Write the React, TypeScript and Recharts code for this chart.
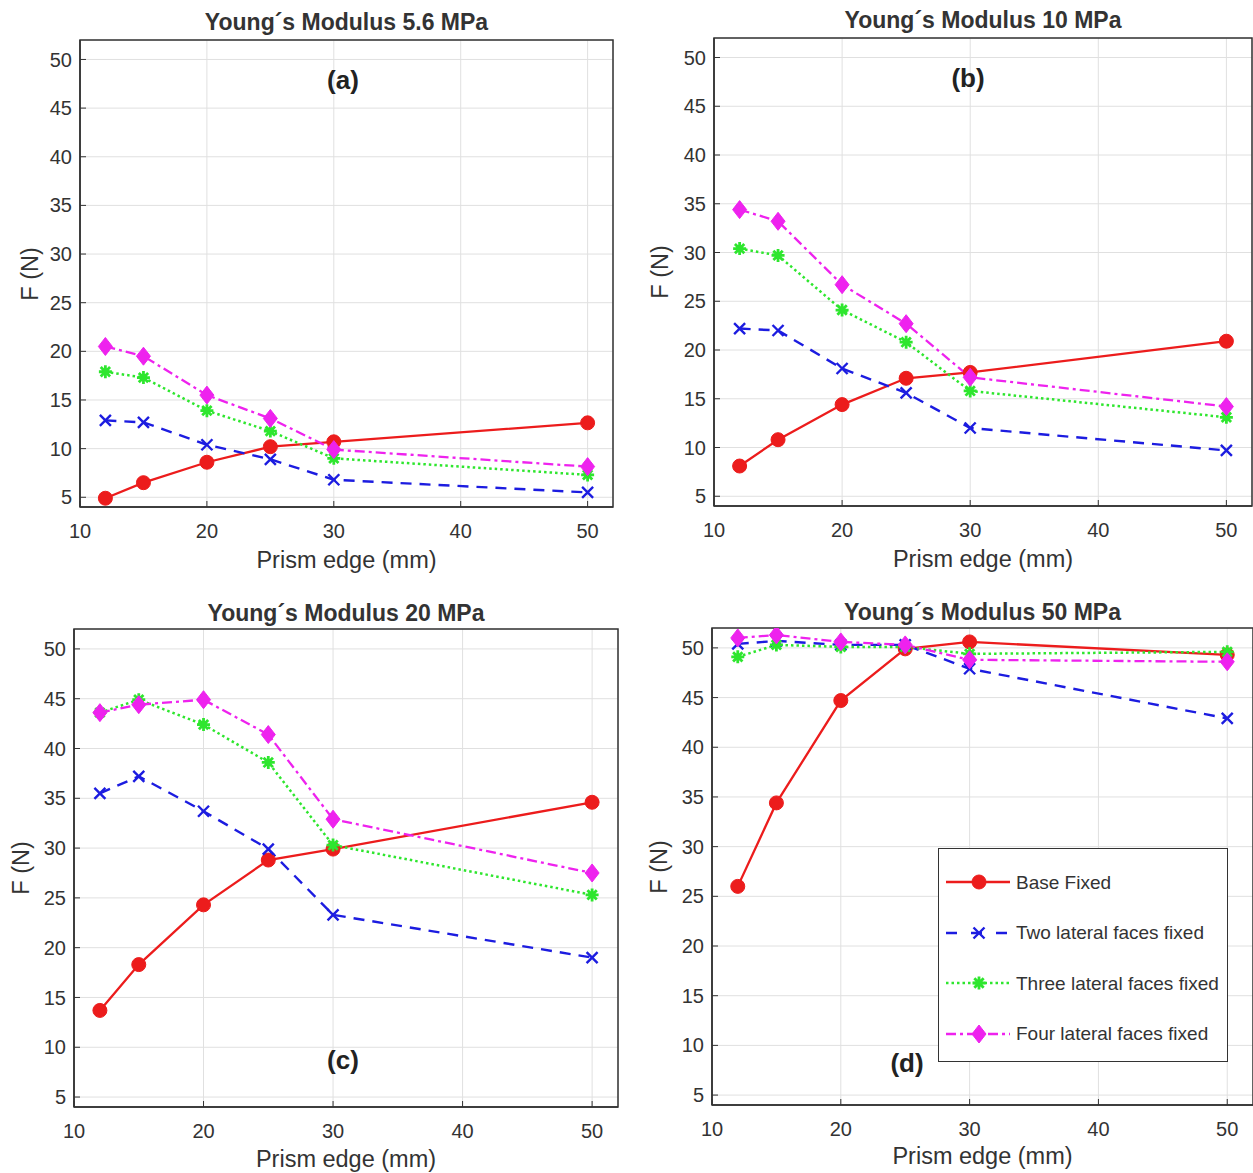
import React from 'react';
import { LineChart, Line, XAxis, YAxis, CartesianGrid, ReferenceArea } from 'recharts';

const EDGES = [12, 15, 20, 25, 30, 50];
const X_TICKS = [10, 20, 30, 40, 50];
const Y_TICKS = [5, 10, 15, 20, 25, 30, 35, 40, 45, 50];

const SERIES_NAMES = ['Base Fixed', 'Two lateral faces fixed', 'Three lateral faces fixed', 'Four lateral faces fixed'];

// (a) 5.6 MPa
const BASE_A = [4.9, 6.5, 8.6, 10.2, 10.7, 12.65];
const TWO_A = [12.9, 12.7, 10.4, 8.9, 6.8, 5.5];
const THREE_A = [17.9, 17.3, 13.9, 11.8, 9.0, 7.3];
const FOUR_A = [20.5, 19.5, 15.5, 13.1, 9.9, 8.15];

// (b) 10 MPa
const BASE_B = [8.1, 10.8, 14.4, 17.1, 17.7, 20.9];
const TWO_B = [22.2, 22.0, 18.1, 15.6, 12.0, 9.7];
const THREE_B = [30.4, 29.7, 24.1, 20.8, 15.8, 13.1];
const FOUR_B = [34.4, 33.2, 26.7, 22.7, 17.2, 14.2];

// (c) 20 MPa
const BASE_C = [13.7, 18.3, 24.3, 28.8, 29.9, 34.6];
const TWO_C = [35.5, 37.2, 33.7, 29.9, 23.3, 19.0];
const THREE_C = [43.6, 44.9, 42.4, 38.6, 30.3, 25.3];
const FOUR_C = [43.6, 44.4, 44.9, 41.4, 32.9, 27.5];

// (d) 50 MPa
const BASE_D = [26.0, 34.4, 44.7, 49.9, 50.6, 49.3];
const TWO_D = [50.4, 50.7, 50.3, 50.3, 47.9, 42.9];
const THREE_D = [49.1, 50.3, 50.1, 50.1, 49.4, 49.6];
const FOUR_D = [51.0, 51.3, 50.6, 50.3, 48.8, 48.6];

const RED = '#ec1c1c';
const BLUE = '#1c1ce0';
const GREEN = '#2ee62e';
const MAGENTA = '#ee22ee';
const INK = '#333333';
const FONT = '"Liberation Sans", Arial, sans-serif';

const buildRows = (base: number[], two: number[], three: number[], four: number[]) =>
  EDGES.map((x, i) => ({ x, base: base[i], two: two[i], three: three[i], four: four[i] }));

const circleDot = (p: any) =>
  p.cx == null ? null : <circle key={`c${p.index}`} cx={p.cx} cy={p.cy} r={7} fill={RED} stroke={RED} />;

const crossDot = (p: any) =>
  p.cx == null ? null : (
    <path key={`x${p.index}`} d={`M${p.cx - 5.5},${p.cy - 5.5}L${p.cx + 5.5},${p.cy + 5.5}M${p.cx - 5.5},${p.cy + 5.5}L${p.cx + 5.5},${p.cy - 5.5}`}
      stroke={BLUE} strokeWidth={2.4} fill="none" />
  );

const starPath = (cx: number, cy: number, s: number) => {
  const d = s * 0.72;
  return `M${cx - s},${cy}L${cx + s},${cy}M${cx},${cy - s}L${cx},${cy + s}M${cx - d},${cy - d}L${cx + d},${cy + d}M${cx - d},${cy + d}L${cx + d},${cy - d}`;
};

const starDot = (p: any) =>
  p.cx == null ? null : <path key={`s${p.index}`} d={starPath(p.cx, p.cy, 6.5)} stroke={GREEN} strokeWidth={2.8} fill="none" />;

const diamondDot = (p: any) =>
  p.cx == null ? null : (
    <polygon key={`d${p.index}`} points={`${p.cx},${p.cy - 9} ${p.cx + 7},${p.cy} ${p.cx},${p.cy + 9} ${p.cx - 7},${p.cy}`}
      fill={MAGENTA} stroke={MAGENTA} />
  );

interface PanelProps {
  rows: any[];
  left: number;
  top: number;
  width: number;
  height: number;
  plot: { l: number; r: number; t: number; b: number }; // plot box, page coords
  title: string;
  tag: string;
  tagPos: [number, number];
  yLabelX: number;
  xLabelY: number;
  titleY: number;
}

const Panel: React.FC<PanelProps> = ({ rows, left, top, width, height, plot, title, tag, tagPos, yLabelX, xLabelY, titleY }) => {
  const yW = plot.l - left;
  const xH = top + height - plot.b;
  const margin = { top: plot.t - top, right: left + width - plot.r, bottom: 0, left: 0 };
  const cx = (plot.l + plot.r) / 2;
  const cy = (plot.t + plot.b) / 2;
  const tickStyle = { fill: INK, fontSize: 20, fontFamily: FONT };
  return (
    <>
      <div style={{ position: 'absolute', left, top }}>
        <LineChart width={width} height={height} data={rows} margin={margin}>
          <CartesianGrid stroke="#e0e0e0" strokeWidth={1} />
          <XAxis dataKey="x" type="number" domain={[10, 52]} ticks={X_TICKS} allowDataOverflow
            height={xH} tickSize={-6} tickMargin={23} stroke={INK} tick={tickStyle} axisLine={{ stroke: INK, strokeWidth: 1.5 }} />
          <XAxis xAxisId="top" orientation="top" type="number" domain={[10, 52]} ticks={X_TICKS} allowDataOverflow
            height={0} tickSize={-6} tick={false} axisLine={false} stroke={INK} />
          <YAxis type="number" domain={[4, 52]} ticks={Y_TICKS} allowDataOverflow
            width={yW} tickSize={-6} tickMargin={14} stroke={INK} tick={tickStyle} axisLine={{ stroke: INK, strokeWidth: 1.5 }} />
          <YAxis yAxisId="right" orientation="right" type="number" domain={[4, 52]} ticks={Y_TICKS} allowDataOverflow
            width={0} tickSize={-6} tick={false} axisLine={false} stroke={INK} />
          <ReferenceArea x1={10} x2={52} y1={4} y2={52} fill="none" stroke={INK} strokeWidth={1.5} ifOverflow="visible" />
          <Line dataKey="base" name={SERIES_NAMES[0]} stroke={RED} strokeWidth={2.3} dot={circleDot} activeDot={false} isAnimationActive={false} />
          <Line dataKey="two" name={SERIES_NAMES[1]} stroke={BLUE} strokeWidth={2.4} strokeDasharray="11 8" dot={crossDot} activeDot={false} isAnimationActive={false} />
          <Line dataKey="three" name={SERIES_NAMES[2]} stroke={GREEN} strokeWidth={2.5} strokeDasharray="2.5 3" dot={starDot} activeDot={false} isAnimationActive={false} />
          <Line dataKey="four" name={SERIES_NAMES[3]} stroke={MAGENTA} strokeWidth={2.3} strokeDasharray="10 4 3 4" dot={diamondDot} activeDot={false} isAnimationActive={false} />
        </LineChart>
      </div>
      <div style={{ position: 'absolute', left: cx, top: titleY, transform: 'translate(-50%, -50%)', fontFamily: FONT, fontWeight: 'bold', fontSize: 23, color: INK, whiteSpace: 'nowrap', lineHeight: 1 }}>{title}</div>
      <div style={{ position: 'absolute', left: tagPos[0], top: tagPos[1], transform: 'translate(-50%, -50%)', fontFamily: FONT, fontWeight: 'bold', fontSize: 26, color: '#222', whiteSpace: 'nowrap', lineHeight: 1 }}>{tag}</div>
      <div style={{ position: 'absolute', left: cx, top: xLabelY, transform: 'translate(-50%, -50%)', fontFamily: FONT, fontSize: 23.5, color: INK, whiteSpace: 'nowrap', lineHeight: 1 }}>Prism edge (mm)</div>
      <div style={{ position: 'absolute', left: yLabelX, top: cy, transform: 'translate(-50%, -50%) rotate(-90deg)', fontFamily: FONT, fontSize: 23.5, color: INK, whiteSpace: 'nowrap', lineHeight: 1 }}>F (N)</div>
    </>
  );
};

const LegendIcon: React.FC<{ idx: number }> = ({ idx }) => {
  const y = 11;
  const line =
    idx === 0 ? <line x1={0} y1={y} x2={64} y2={y} stroke={RED} strokeWidth={2.3} /> :
    idx === 1 ? <line x1={0} y1={y} x2={64} y2={y} stroke={BLUE} strokeWidth={2.4} strokeDasharray="11 14" /> :
    idx === 2 ? <line x1={0} y1={y} x2={64} y2={y} stroke={GREEN} strokeWidth={2.5} strokeDasharray="2.5 3" /> :
    <line x1={0} y1={y} x2={64} y2={y} stroke={MAGENTA} strokeWidth={2.3} strokeDasharray="10 4 3 4" />;
  const p = { cx: 33, cy: y, index: idx };
  const marker = [circleDot, crossDot, starDot, diamondDot][idx](p);
  return (
    <svg width={66} height={22} style={{ display: 'block' }}>
      {line}
      {marker}
    </svg>
  );
};

const LegendBox: React.FC = () => (
  <div style={{ position: 'absolute', left: 938, top: 848, width: 290, height: 214, border: `1.5px solid ${INK}`, background: '#fff', boxSizing: 'border-box' }}>
    {SERIES_NAMES.map((name, i) => (
      <div key={name} style={{ position: 'absolute', left: 7, top: 22 + i * 50.5, display: 'flex', alignItems: 'center' }}>
        <LegendIcon idx={i} />
        <span style={{ marginLeft: 4, fontFamily: FONT, fontSize: 19, color: INK, whiteSpace: 'nowrap', lineHeight: 1 }}>{name}</span>
      </div>
    ))}
  </div>
);

const App: React.FC = () => {
  const rowsA = buildRows(BASE_A, TWO_A, THREE_A, FOUR_A);
  const rowsB = buildRows(BASE_B, TWO_B, THREE_B, FOUR_B);
  const rowsC = buildRows(BASE_C, TWO_C, THREE_C, FOUR_C);
  const rowsD = buildRows(BASE_D, TWO_D, THREE_D, FOUR_D);
  return (
    <div style={{ position: 'absolute', left: 0, top: 0, width: 1253, height: 1173, background: '#fff', overflow: 'hidden' }}>
      <Panel rows={rowsA} left={0} top={0} width={626} height={586} plot={{ l: 80, r: 613, t: 40, b: 507 }}
        title="Young´s Modulus 5.6 MPa" titleY={22} tag="(a)" tagPos={[343, 80]} yLabelX={31} xLabelY={561} />
      <Panel rows={rowsB} left={630} top={0} width={623} height={586} plot={{ l: 714, r: 1252, t: 38, b: 506 }}
        title="Young´s Modulus 10 MPa" titleY={20} tag="(b)" tagPos={[968, 78]} yLabelX={661} xLabelY={560} />
      <Panel rows={rowsC} left={0} top={590} width={626} height={583} plot={{ l: 74, r: 618, t: 629, b: 1107 }}
        title="Young´s Modulus 20 MPa" titleY={613} tag="(c)" tagPos={[343, 1060]} yLabelX={22} xLabelY={1160} />
      <Panel rows={rowsD} left={630} top={590} width={623} height={583} plot={{ l: 712, r: 1253, t: 628, b: 1105 }}
        title="Young´s Modulus 50 MPa" titleY={612} tag="(d)" tagPos={[907, 1063]} yLabelX={660} xLabelY={1157} />
      <LegendBox />
    </div>
  );
};

export default App;
